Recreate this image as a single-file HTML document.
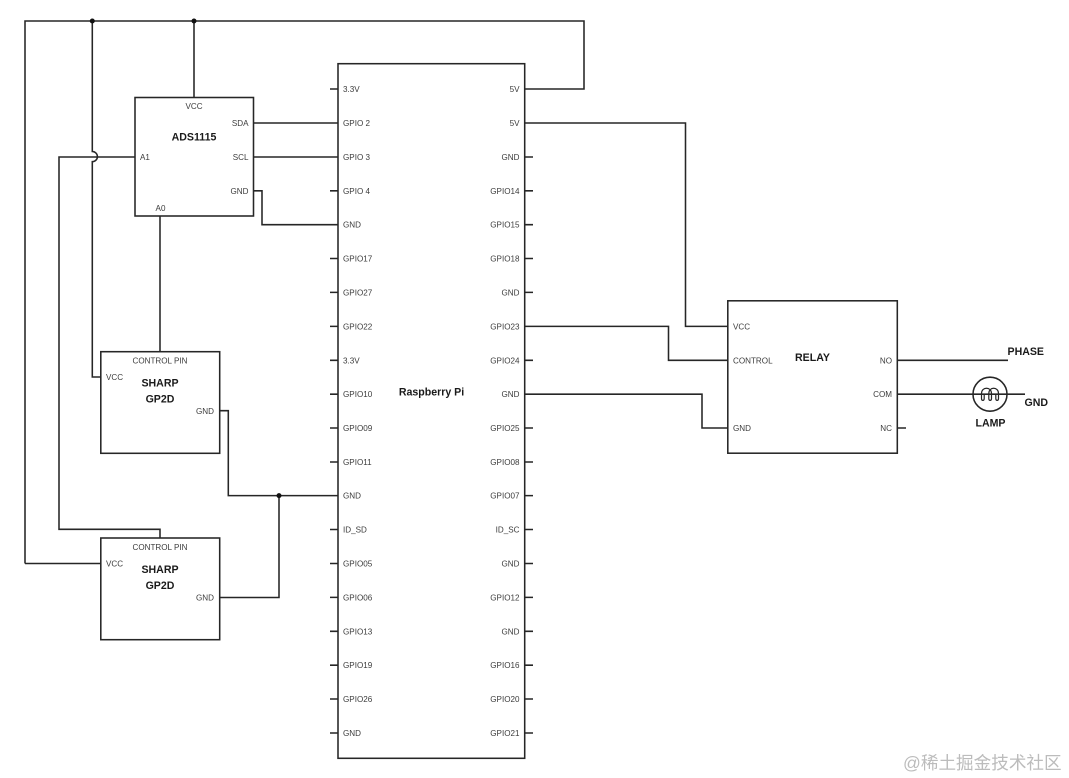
<!DOCTYPE html>
<html>
<head>
<meta charset="utf-8">
<style>
html,body{margin:0;padding:0;background:#fff;width:1069px;height:778px;overflow:hidden}
svg{display:block}
text{font-family:"Liberation Sans",Arial,sans-serif;font-size:8.1px;fill:#3c3c3c}
.b{font-weight:bold;font-size:10.6px;fill:#1a1a1a}
.e{text-anchor:end}
.m{text-anchor:middle}
.w{fill:none;stroke:#262626;stroke-width:1.55}
</style>
</head>
<body>
<svg width="1069" height="778" viewBox="0 0 1069 778" xmlns="http://www.w3.org/2000/svg">
<g class="w">
<rect x="338" y="63.7" width="186.7" height="694.6"/>
<rect x="135" y="97.5" width="118.5" height="118.5"/>
<rect x="100.8" y="351.7" width="118.9" height="101.6"/>
<rect x="100.8" y="538" width="118.9" height="101.7"/>
<rect x="727.8" y="300.8" width="169.5" height="152.4"/>
<path d="M25 563.5V21H584V89H524.7"/>
<path d="M25 563.5H100.8"/>
<path d="M92.3 21V151.5A5 5 0 0 1 92.3 161.7V377H100.8"/>
<path d="M194 21V97.5"/>
<path d="M135 157H59V529.3H160V538"/>
<path d="M160 216V351.7"/>
<path d="M253.5 123H338M253.5 157H338"/>
<path d="M253.5 190.8H262V224.7H338"/>
<path d="M219.7 410.7H228.3V495.6H338"/>
<path d="M219.7 597.5H279V495.6"/>
<path d="M524.7 123H685.5V326.4H727.8"/>
<path d="M524.7 326.4H668.5V360.3H727.8"/>
<path d="M524.7 394.2H702V428H727.8"/>
<path d="M897.3 360.3H1008M897.3 394.2H1025M897.3 428H906"/>
<path d="M330 89H338M330 190.8H338M330 258.5H338M330 292.4H338M330 326.4H338M330 360.3H338M330 394.2H338M330 428H338M330 462H338M330 529.5H338M330 563.5H338M330 597.4H338M330 631.3H338M330 665.2H338M330 699H338M330 733H338"/>
<path d="M524.7 157H533M524.7 190.8H533M524.7 224.7H533M524.7 258.5H533M524.7 292.4H533M524.7 360.3H533M524.7 428H533M524.7 462H533M524.7 495.6H533M524.7 529.5H533M524.7 563.5H533M524.7 597.4H533M524.7 631.3H533M524.7 665.2H533M524.7 699H533M524.7 733H533"/>
<circle cx="990" cy="394.2" r="17"/>
<path d="M984.2 394V398.5C984.2 401 981.5 401 981.5 398.5V393.5C981.5 386.5 991.5 386.5 991.5 393.5V398.5C991.5 401 988.8 401 988.8 398.5V393.5C988.8 386.5 998.5 386.5 998.5 393.5V398.5C998.5 401 995.8 401 995.8 398.5V394" stroke-width="1.2"/>
</g>
<circle cx="92.3" cy="21" r="2.5" fill="#111"/>
<circle cx="194" cy="21" r="2.5" fill="#111"/>
<circle cx="279" cy="495.6" r="2.5" fill="#111"/>

<g>
<text x="343" y="92">3.3V</text>
<text x="343" y="126">GPIO 2</text>
<text x="343" y="160">GPIO 3</text>
<text x="343" y="193.8">GPIO 4</text>
<text x="343" y="227.7">GND</text>
<text x="343" y="261.5">GPIO17</text>
<text x="343" y="295.4">GPIO27</text>
<text x="343" y="329.4">GPIO22</text>
<text x="343" y="363.3">3.3V</text>
<text x="343" y="397.2">GPIO10</text>
<text x="343" y="431">GPIO09</text>
<text x="343" y="465">GPIO11</text>
<text x="343" y="498.6">GND</text>
<text x="343" y="532.5">ID_SD</text>
<text x="343" y="566.5">GPIO05</text>
<text x="343" y="600.4">GPIO06</text>
<text x="343" y="634.3">GPIO13</text>
<text x="343" y="668.2">GPIO19</text>
<text x="343" y="702">GPIO26</text>
<text x="343" y="736">GND</text>
</g>
<g class="e">
<text class="e" x="519.5" y="92">5V</text>
<text class="e" x="519.5" y="126">5V</text>
<text class="e" x="519.5" y="160">GND</text>
<text class="e" x="519.5" y="193.8">GPIO14</text>
<text class="e" x="519.5" y="227.7">GPIO15</text>
<text class="e" x="519.5" y="261.5">GPIO18</text>
<text class="e" x="519.5" y="295.4">GND</text>
<text class="e" x="519.5" y="329.4">GPIO23</text>
<text class="e" x="519.5" y="363.3">GPIO24</text>
<text class="e" x="519.5" y="397.2">GND</text>
<text class="e" x="519.5" y="431">GPIO25</text>
<text class="e" x="519.5" y="465">GPIO08</text>
<text class="e" x="519.5" y="498.6">GPIO07</text>
<text class="e" x="519.5" y="532.5">ID_SC</text>
<text class="e" x="519.5" y="566.5">GND</text>
<text class="e" x="519.5" y="600.4">GPIO12</text>
<text class="e" x="519.5" y="634.3">GND</text>
<text class="e" x="519.5" y="668.2">GPIO16</text>
<text class="e" x="519.5" y="702">GPIO20</text>
<text class="e" x="519.5" y="736">GPIO21</text>
</g>
<text class="b m" x="431.5" y="395.5">Raspberry Pi</text>

<text class="m" x="194" y="109">VCC</text>
<text class="e" x="248.5" y="126">SDA</text>
<text class="e" x="248.5" y="160">SCL</text>
<text class="e" x="248.5" y="193.8">GND</text>
<text x="140" y="160">A1</text>
<text class="m" x="160.5" y="211">A0</text>
<text class="b m" x="194" y="140.5">ADS1115</text>

<text class="m" x="160" y="363.5">CONTROL PIN</text>
<text x="106" y="380">VCC</text>
<text class="e" x="214" y="414">GND</text>
<text class="b m" x="160" y="386.5">SHARP</text>
<text class="b m" x="160" y="402.5">GP2D</text>

<text class="m" x="160" y="550">CONTROL PIN</text>
<text x="106" y="566.5">VCC</text>
<text class="e" x="214" y="600.5">GND</text>
<text class="b m" x="160" y="573">SHARP</text>
<text class="b m" x="160" y="589">GP2D</text>

<text x="733" y="329.4">VCC</text>
<text x="733" y="363.3">CONTROL</text>
<text x="733" y="431">GND</text>
<text class="e" x="892" y="363.3">NO</text>
<text class="e" x="892" y="397.2">COM</text>
<text class="e" x="892" y="431">NC</text>
<text class="b m" x="812.5" y="361">RELAY</text>
<text class="b" x="1007.5" y="355">PHASE</text>
<text class="b" x="1024.5" y="406">GND</text>
<text class="b m" x="990.5" y="426.5">LAMP</text>

<text x="903" y="769" style="font-family:'Liberation Sans','Noto Sans CJK SC',sans-serif;font-size:17.6px;fill:#bcbcbc">@稀土掘金技术社区</text>
</svg>
</body>
</html>
